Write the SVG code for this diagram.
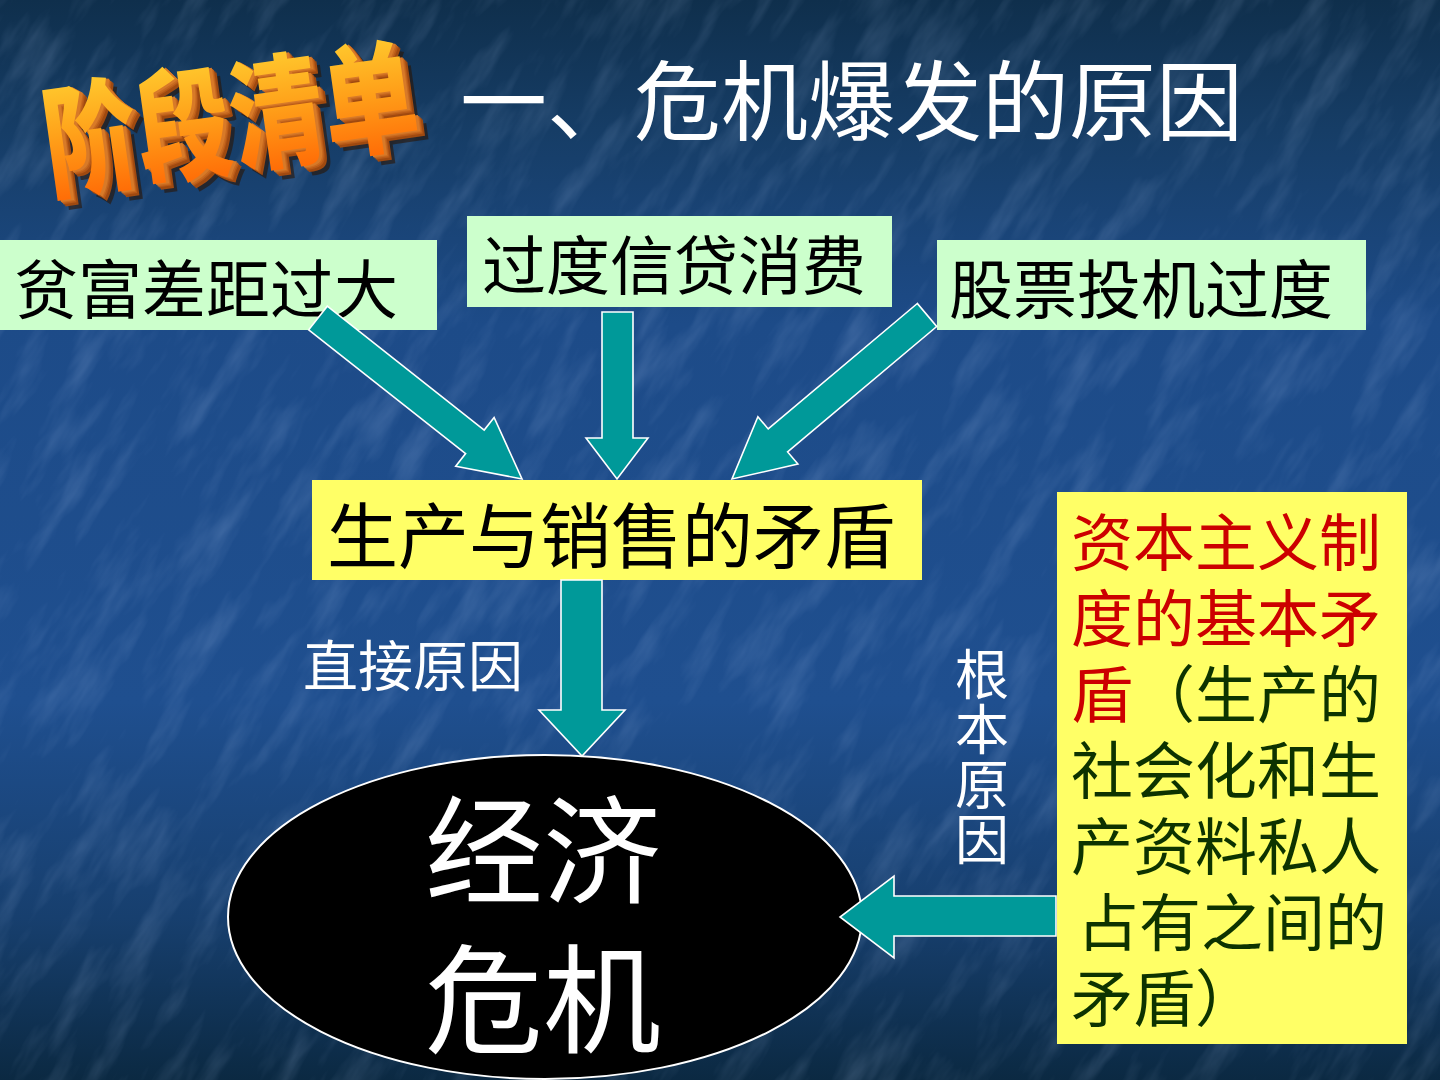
<svg xmlns="http://www.w3.org/2000/svg" width="1440" height="1080" viewBox="0 0 1440 1080">
<defs>
<linearGradient id="bg" x1="0" y1="0" x2="0" y2="1">
<stop offset="0" stop-color="#0f2f4c"/>
<stop offset="0.12" stop-color="#163d66"/>
<stop offset="0.3" stop-color="#1d4b88"/>
<stop offset="0.65" stop-color="#1f4f8f"/>
<stop offset="0.85" stop-color="#173f6e"/>
<stop offset="1" stop-color="#0b2942"/>
</linearGradient>
<filter id="tex" x="0" y="0" width="100%" height="100%" filterUnits="objectBoundingBox">
<feTurbulence type="fractalNoise" baseFrequency="0.01 0.04" numOctaves="4" seed="7"/>
<feColorMatrix type="matrix" values="0 0 0 0 0.55  0 0 0 0 0.7  0 0 0 0 1  0 0 0 1.3 -0.6"/>
</filter>
<linearGradient id="wordFace" x1="0" y1="0" x2="0" y2="1">
<stop offset="0" stop-color="#ffe23a"/>
<stop offset="0.5" stop-color="#ffa21a"/>
<stop offset="1" stop-color="#ff5a00"/>
</linearGradient>
<style>
.zh{font-family:"Noto Sans CJK SC","Noto Sans",sans-serif;}
.box-green{fill:#ccffcc;}
.box-yellow{fill:#ffff66;}
.lbl{fill:#000000;font-size:64px;}
.arrow{fill:#009999;stroke:#ffffff;stroke-width:1.6;stroke-linejoin:miter;}
.white{fill:#ffffff;}
.red{fill:#cc0000;}
.dgreen{fill:#0d3300;}
.ext{fill:#a04a10;}
</style>
</defs>

<rect x="0" y="0" width="1440" height="1080" fill="url(#bg)"/>
<g opacity="0.28">
<rect x="-900" y="-900" width="3240" height="2880" filter="url(#tex)" transform="rotate(-58 720 540)"/>
</g>

<g id="wordart" class="zh" font-size="94" font-weight="900">
<g transform="translate(50,190) rotate(-8) scale(1,1.3)">
<text x="10" y="8" fill="#2a1505" opacity="0.6">阶段清单</text>
<text x="7" y="5" class="ext">阶段清单</text>
<text x="6" y="4" class="ext">阶段清单</text>
<text x="5" y="3" fill="#b85a18">阶段清单</text>
<text x="4" y="2" fill="#c86a20">阶段清单</text>
<text x="3" y="1" fill="#d87a28">阶段清单</text>
<text x="0" y="0" fill="url(#wordFace)">阶段清单</text>
</g>
</g>

<g id="title">
<text x="460" y="134" class="zh white" font-size="87">一、危机爆发的原因</text>
</g>

<g id="node-poverty">
<rect x="0" y="240" width="437" height="90" class="box-green"/>
<text x="14" y="313" class="zh lbl">贫富差距过大</text>
</g>

<g id="node-credit">
<rect x="467" y="216" width="425" height="91" class="box-green"/>
<text x="482" y="289" class="zh lbl">过度信贷消费</text>
</g>

<g id="node-stock">
<rect x="937" y="240" width="429" height="90" class="box-green"/>
<text x="949" y="313" class="zh lbl">股票投机过度</text>
</g>

<g id="node-contradiction">
<rect x="312" y="480" width="610" height="100" class="box-yellow"/>
<text x="327" y="562" class="zh" font-size="71" fill="#000000">生产与销售的矛盾</text>
</g>

<g id="node-crisis">
<ellipse cx="545" cy="917" rx="317" ry="162" fill="#000000" stroke="#ffffff" stroke-width="2"/>
<text x="543" y="895" class="zh white" font-size="118" text-anchor="middle">经济</text>
<text x="543" y="1044" class="zh white" font-size="118" text-anchor="middle">危机</text>
</g>

<g id="node-root">
<rect x="1057" y="492" width="350" height="552" class="box-yellow"/>
<text class="zh" font-size="62">
<tspan x="1071" y="566" class="red">资本主义制</tspan>
<tspan x="1071" y="642" class="red">度的基本矛</tspan>
<tspan x="1071" y="718" class="red">盾</tspan><tspan class="dgreen">（生产的</tspan>
<tspan x="1071" y="794" class="dgreen">社会化和生</tspan>
<tspan x="1071" y="870" class="dgreen">产资料私人</tspan>
<tspan x="1077" y="946" class="dgreen">占有之间的</tspan>
<tspan x="1071" y="1022" class="dgreen">矛盾）</tspan>
</text>
</g>

<g id="connectors">
<polygon class="arrow" points="327.3,306.2 484.2,430.1 494.1,417.5 522,479 455.7,466.2 465.6,453.6 308.7,329.8"/>
<polygon class="arrow" points="602,312 633,312 633,438 648,438 617,479 586,438 602,438"/>
<polygon class="arrow" points="917.3,303.5 768.2,428.9 757.9,416.7 732,479 797.9,464.1 787.6,451.9 936.7,326.5"/>
<polygon class="arrow" points="561,580 602,580 602,710 625,710 582,756 539,710 561,710"/>
<polygon class="arrow" points="1056,896 1056,936 894,936 894,958 840,917 894,876 894,896"/>
<text x="303" y="686" class="zh white" font-size="55">直接原因</text>
<text x="982" y="647" class="zh white" font-size="54" style="writing-mode:vertical-rl;" letter-spacing="1">根本原因</text>
</g>
</svg>
